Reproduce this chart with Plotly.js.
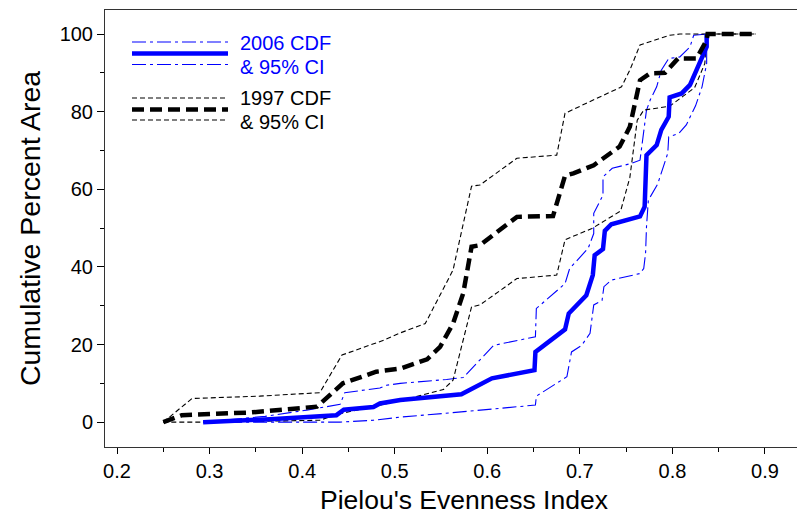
<!DOCTYPE html>
<html>
<head>
<meta charset="utf-8">
<script src="https://cdn.plot.ly/plotly-3.0.1.min.js"></script>
<style>
  html, body { margin: 0; padding: 0; background: #fff; }
  #chart { width: 797px; height: 517px; }
</style>
</head>
<body>
<div id="chart"></div>
<script>
// Evenness values (x) and cumulative percent area (y) for each curve

// 2006 CDF
const cdf2006X = [0.293, 0.37, 0.437, 0.445, 0.477, 0.484, 0.506, 0.572, 0.605, 0.651, 0.652, 0.684, 0.688, 0.707, 0.714, 0.716, 0.725, 0.727, 0.734, 0.765, 0.770, 0.772, 0.783, 0.788, 0.796, 0.797, 0.810, 0.819, 0.837, 0.837];
const cdf2006Y = [0, 0.8, 1.8, 3.2, 3.9, 4.8, 5.7, 7.2, 11.3, 13.4, 18.1, 23.9, 28.0, 32.7, 37.9, 43.0, 44.6, 49.3, 51.0, 53.0, 55.5, 68.8, 71.4, 75.3, 78.7, 83.7, 84.7, 86.9, 96.7, 100];

// 2006 upper 95% CI
const up2006X = [0.293, 0.36, 0.405, 0.441, 0.446, 0.484, 0.491, 0.506, 0.556, 0.574, 0.607, 0.652, 0.653, 0.684, 0.689, 0.709, 0.715, 0.715, 0.725, 0.725, 0.735, 0.756, 0.765, 0.772, 0.776, 0.783, 0.788, 0.796, 0.808, 0.819, 0.823, 0.837];
const up2006Y = [0, 1.5, 3.1, 4.6, 7.6, 8.8, 9.5, 10.0, 11.0, 11.5, 19.8, 22.0, 29.3, 35.7, 39.6, 44.8, 48.6, 53.8, 58.5, 63.2, 65.4, 66.7, 67.5, 80.4, 83.0, 86.4, 90.7, 93.7, 94.1, 96.7, 99.7, 100];

// 2006 lower 95% CI
const lo2006X = [0.293, 0.441, 0.477, 0.506, 0.56, 0.652, 0.653, 0.686, 0.691, 0.702, 0.711, 0.715, 0.724, 0.726, 0.734, 0.765, 0.769, 0.771, 0.772, 0.774, 0.784, 0.795, 0.796, 0.807, 0.815, 0.825, 0.832, 0.837, 0.837];
const lo2006Y = [0, 0, 0.5, 1.3, 2.4, 4.4, 6.7, 11.7, 18.1, 19.8, 22.9, 30.2, 31.4, 34.9, 36.6, 38.3, 39.6, 43.5, 50.3, 57.2, 61.3, 69.3, 73.5, 74.4, 76.6, 81.5, 86.4, 92.4, 100];

// 1997 CDF
const cdf1997X = [0.25, 0.27, 0.344, 0.387, 0.416, 0.444, 0.48, 0.506, 0.535, 0.549, 0.563, 0.574, 0.583, 0.592, 0.61, 0.632, 0.671, 0.684, 0.693, 0.715, 0.743, 0.754, 0.765, 0.776, 0.792, 0.806, 0.826, 0.837, 0.838, 0.89];
const cdf1997Y = [0, 1.8, 2.5, 3.5, 4.0, 10.0, 13.0, 13.8, 16.2, 19.4, 25.4, 33.2, 45.2, 45.6, 49.0, 52.9, 53.1, 63.5, 64.1, 66.2, 71.0, 76.1, 88.1, 89.9, 90.0, 93.7, 93.7, 98.4, 100, 100];

// 1997 upper 95% CI
const up1997X = [0.25, 0.281, 0.354, 0.419, 0.443, 0.488, 0.506, 0.533, 0.563, 0.583, 0.592, 0.614, 0.632, 0.675, 0.684, 0.745, 0.754, 0.765, 0.797, 0.808, 0.89];
const up1997Y = [0, 6.1, 6.7, 7.6, 17.3, 21.1, 23.0, 25.4, 39.2, 60.8, 61.1, 64.9, 68.0, 68.8, 79.6, 86.4, 90.7, 97.2, 99.7, 100, 100];

// 1997 lower 95% CI
const lo1997X = [0.25, 0.30, 0.419, 0.441, 0.506, 0.5525, 0.563, 0.583, 0.592, 0.614, 0.632, 0.675, 0.684, 0.713, 0.744, 0.754, 0.762, 0.769, 0.797, 0.824, 0.835, 0.837, 0.89];
const lo1997Y = [0, 0, 0.5, 2.2, 5.5, 8.4, 10.8, 29.7, 30.2, 34.0, 37.0, 37.9, 47.0, 49.9, 54.4, 63.0, 77.8, 80.4, 81.4, 86.2, 92.4, 100, 100];

// Axis ticks
const xTickVals = [0.2, 0.3, 0.4, 0.5, 0.6, 0.7, 0.8, 0.9];
const yTickVals = [0, 20, 40, 60, 80, 100];

// Axis titles
const xTitle = "Pielou's Evenness Index";
const yTitle = 'Cumulative Percent Area';

// Legend entries
const legendLabels2006 = ['2006 CDF', '& 95% CI'];
const legendLabels1997 = ['1997 CDF', '& 95% CI'];

const BLUE = '#0000ff';
const BLACK = '#000000';
const dashDot = '14px,4px,3px,4px';
const thinDash = '5px,3px';
const thickDash = '12px,6px';
const FONT = 'Liberation Sans, Arial, sans-serif';

function line(x, y, color, width, dash) {
  return {
    x: x, y: y, type: 'scatter', mode: 'lines',
    line: { color: color, width: width, dash: dash, shape: 'linear' },
    hoverinfo: 'skip', showlegend: false
  };
}

const data = [
  line(up2006X, up2006Y, BLUE, 1.1, dashDot),
  line(lo2006X, lo2006Y, BLUE, 1.1, dashDot),
  line(up1997X, up1997Y, BLACK, 1.1, thinDash),
  line(lo1997X, lo1997Y, BLACK, 1.1, thinDash),
  line(cdf2006X, cdf2006Y, BLUE, 4.5, 'solid'),
  line(cdf1997X, cdf1997Y, BLACK, 4.5, thickDash)
];

// Plot area in pixels
const W = 797, H = 517;
const mL = 105, mR = 0, mT = 10, mB = 70;
const pw = W - mL - mR, ph = H - mT - mB;
const px = v => (v - mL) / pw;          // pixel x -> paper x
const py = v => (H - mB - v) / ph;      // pixel y -> paper y

// Legend samples drawn as paper-anchored shapes
function legLine(y, color, width, dash) {
  return {
    type: 'line', xref: 'paper', yref: 'paper',
    x0: px(132), x1: px(228), y0: py(y), y1: py(y),
    line: { color: color, width: width, dash: dash }
  };
}
const shapes = [
  legLine(42, BLUE, 1.1, dashDot),
  legLine(53.5, BLUE, 4.5, 'solid'),
  legLine(64.5, BLUE, 1.1, dashDot),
  legLine(98, BLACK, 1.1, thinDash),
  legLine(109.5, BLACK, 4.5, thickDash),
  legLine(120, BLACK, 1.1, thinDash)
];

function legText(text, y, color) {
  return {
    text: text, xref: 'paper', yref: 'paper',
    x: px(238), y: py(y), xanchor: 'left', yanchor: 'middle',
    showarrow: false,
    font: { family: FONT, size: 20, color: color }
  };
}
const annotations = [
  legText(legendLabels2006[0], 43, BLUE),
  legText(legendLabels2006[1], 67, BLUE),
  legText(legendLabels1997[0], 98.5, BLACK),
  legText(legendLabels1997[1], 122, BLACK),
  {
    // x-axis title, set slightly right of the plot centre
    text: xTitle, xref: 'paper', yref: 'paper',
    x: px(464), y: py(500), xanchor: 'center', yanchor: 'middle',
    showarrow: false,
    font: { family: FONT, size: 26.5, color: '#000' }
  }
];

const axisFont = { family: FONT, size: 20, color: '#000' };

const layout = {
  width: W, height: H,
  margin: { l: mL, r: mR, t: mT, b: mB, pad: 0 },
  paper_bgcolor: '#fff', plot_bgcolor: '#fff',
  showlegend: false,
  xaxis: {
    range: [0.187, 0.9346],
    tickmode: 'array', tickvals: xTickVals, ticktext: xTickVals.map(v => v.toFixed(1)),
    ticks: 'outside', ticklen: 6, tickwidth: 1, tickcolor: '#000',
    minor: { dtick: 0.05, tick0: 0.2, ticks: 'outside', ticklen: 4, tickwidth: 1, tickcolor: '#000' },
    showline: true, linecolor: '#333', linewidth: 1, mirror: true,
    showgrid: false, zeroline: false,
    tickfont: axisFont
  },
  yaxis: {
    range: [-6.4, 106.2],
    tickmode: 'array', tickvals: yTickVals, ticktext: yTickVals.map(String),
    ticks: 'outside', ticklen: 7, tickwidth: 1, tickcolor: '#000',
    minor: { dtick: 10, tick0: 0, ticks: 'outside', ticklen: 4, tickwidth: 1, tickcolor: '#000' },
    showline: true, linecolor: '#333', linewidth: 1, mirror: false,
    showgrid: false, zeroline: false,
    tickfont: axisFont,
    title: { text: yTitle, font: { family: FONT, size: 28.5, color: '#000' }, standoff: 10 }
  },
  shapes: shapes,
  annotations: annotations
};

Plotly.newPlot('chart', data, layout, { displayModeBar: false, staticPlot: true });
</script>
</body>
</html>
